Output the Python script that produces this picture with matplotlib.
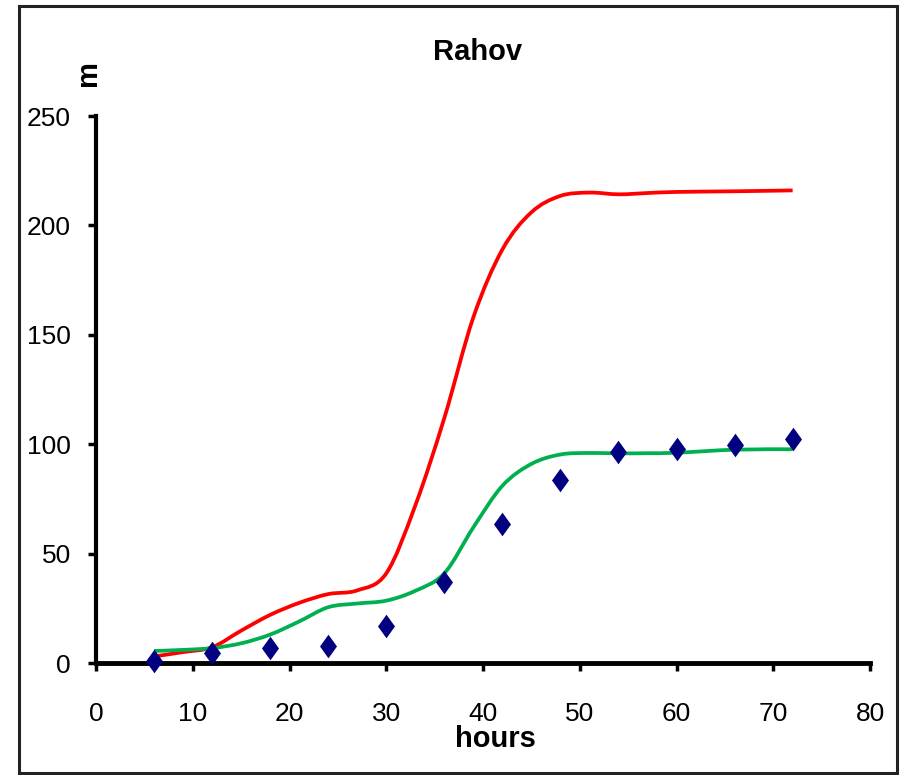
import numpy as np
import matplotlib
matplotlib.use("Agg")
import matplotlib.pyplot as plt
from matplotlib.path import Path
from matplotlib.patches import PathPatch, Rectangle

plt.rcParams['font.family'] = ['Liberation Sans Narrow', 'Liberation Sans', 'DejaVu Sans']

# observed water level (diamonds)
obs_hours = [6, 12, 18, 24, 30, 36, 42, 48, 54, 60, 66, 72]
obs_level = [1.0, 4.7, 6.7, 7.8, 16.9, 36.9, 63.5, 83.6, 96.6, 97.8, 99.6, 102.4]

# model curves, read every 3 hours
model_hours = [6, 9, 12, 15, 18, 21, 24, 27, 30, 33, 36, 39, 42, 45, 48, 51, 54, 57, 60, 66, 72]
red_level = [3, 5, 7.2, 14.8, 22, 27.5, 31.5, 33.2, 41, 72, 112, 158, 189, 206, 213.5, 215, 214.2, 214.8, 215.3, 215.6, 216]
green_level = [5.5, 6, 6.8, 9, 13, 19, 25.5, 27.2, 28.5, 33, 41, 62, 81, 91, 95.3, 96, 95.8, 95.9, 96.1, 97.5, 97.7]


def smooth_path(xs, ys):
    # catmull-rom through the points, as bezier segments
    p = np.column_stack([xs, ys]).astype(float)
    n = len(p)
    verts = [p[0]]
    codes = [Path.MOVETO]
    for i in range(n - 1):
        p0 = p[max(i - 1, 0)]
        p1 = p[i]
        p2 = p[i + 1]
        p3 = p[min(i + 2, n - 1)]
        verts += [p1 + (p2 - p0) / 6, p2 - (p3 - p1) / 6, p2]
        codes += [Path.CURVE4] * 3
    return Path(verts, codes)


# excel-like diamond, a bit wider than 'd'
diamond = [(-0.36, 0), (0, 0.5), (0.36, 0), (0, -0.5), (-0.36, 0)]

fig = plt.figure(figsize=(9, 7.75), dpi=100)
ax = fig.add_axes([0.1067, 0.1445, 0.86, 0.7058])

ax.add_patch(PathPatch(smooth_path(model_hours, red_level), fill=False,
                       edgecolor='#ff0000', lw=2.7, zorder=3))
ax.add_patch(PathPatch(smooth_path(model_hours, green_level), fill=False,
                       edgecolor='#00b050', lw=2.7, zorder=3))
ax.plot(obs_hours, obs_level, linestyle='none', marker=diamond, markersize=17,
        color='#000080', markeredgewidth=0, zorder=5, clip_on=False)

ax.set_xlim(0, 80)
ax.set_ylim(0, 250)
ax.set_xticks(np.arange(0, 81, 10))
ax.set_yticks(np.arange(0, 251, 50))

for s in ['top', 'right']:
    ax.spines[s].set_visible(False)
ax.spines['left'].set_linewidth(3)
ax.spines['bottom'].set_linewidth(3.5)
ax.tick_params(direction='out', length=6, width=2.5, labelsize=19)
ax.tick_params(axis='x', pad=22)
ax.tick_params(axis='y', pad=12)

ax.set_xlabel('hours', fontsize=21, fontweight='bold')
ax.xaxis.set_label_coords((495 - 96) / 774, (663 - 725) / 547)
fig.text(478 / 900, 1 - 52 / 775, 'Rahov', fontsize=21, fontweight='bold',
         ha='center', va='center')
fig.text(88 / 900, 1 - 73 / 775, 'm', fontsize=21, fontweight='bold',
         rotation=90, ha='center', va='center')

# frame round the whole chart
fig.patches.append(Rectangle((19 / 900, 1 - 773 / 775), 878 / 900, 767 / 775,
                             transform=fig.transFigure, fill=False,
                             edgecolor='#222222', lw=2.2))

fig.savefig('out.png', dpi=100)
